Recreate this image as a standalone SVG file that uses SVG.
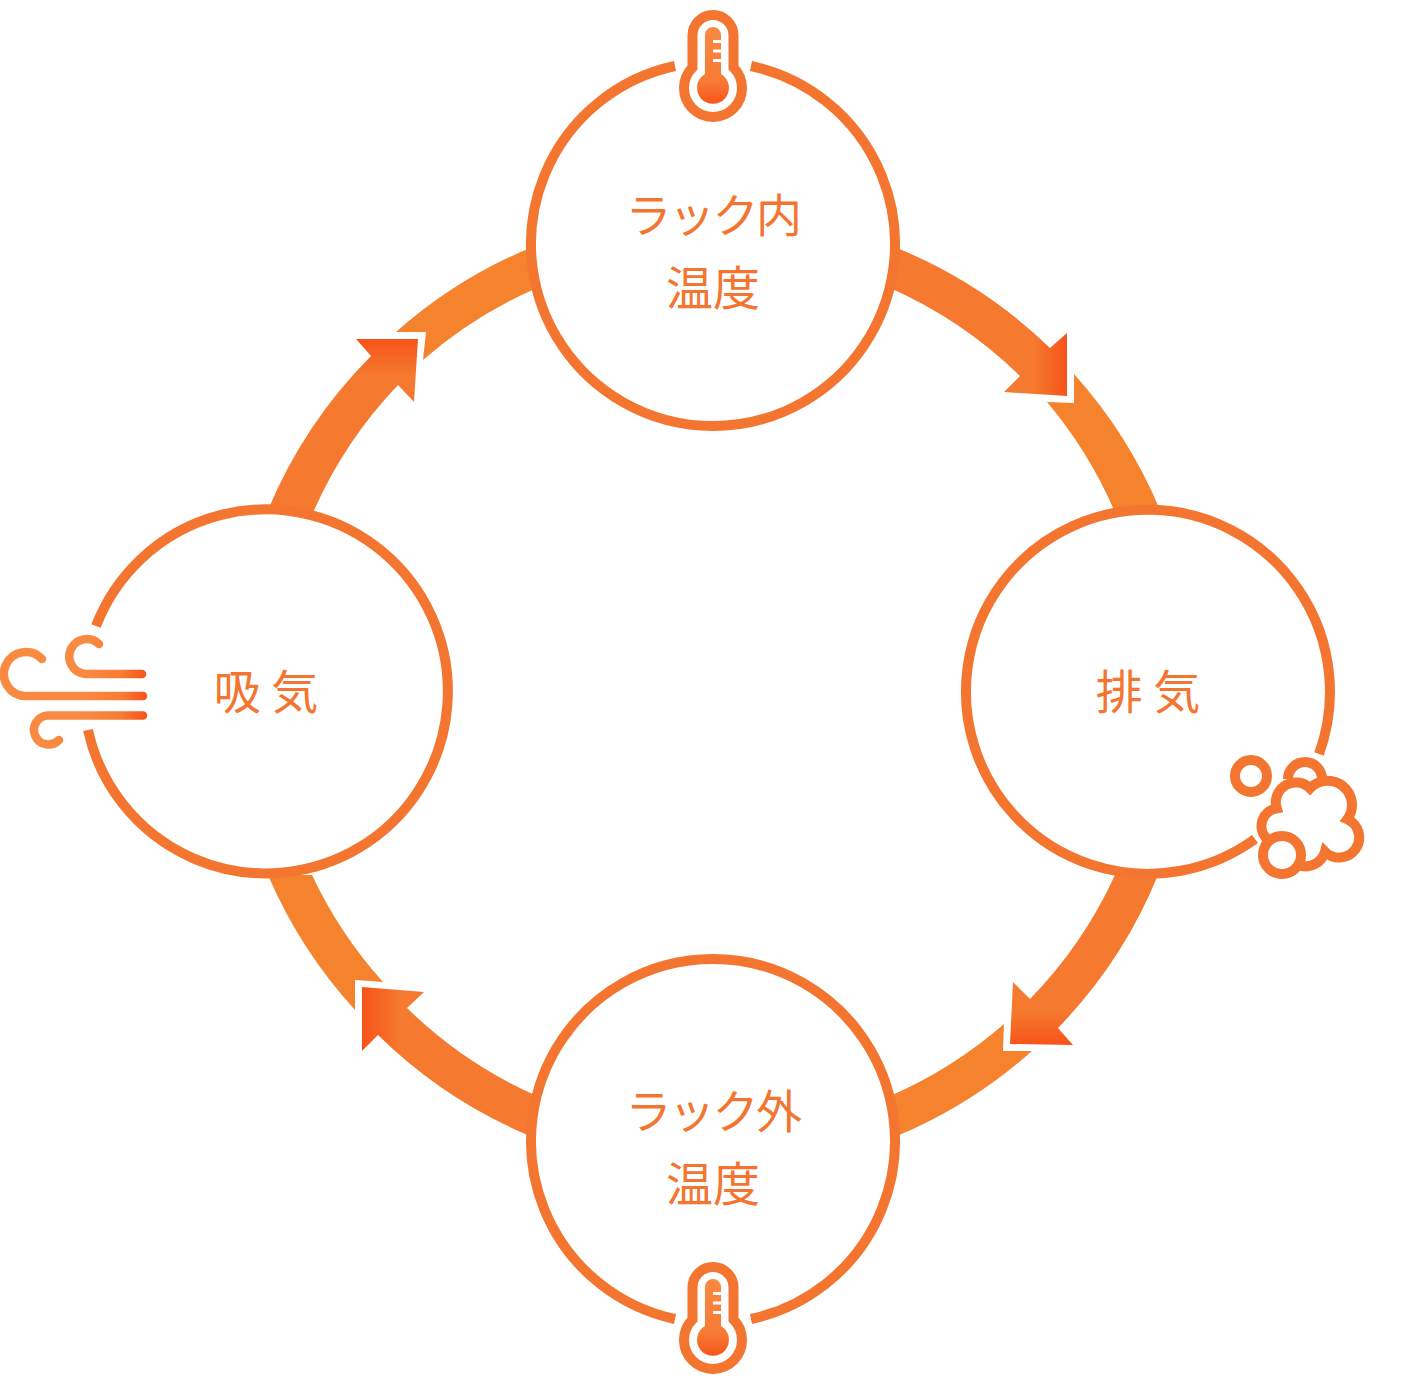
<svg xmlns="http://www.w3.org/2000/svg" width="1415" height="1385" viewBox="0 0 1415 1385">
<defs>
<linearGradient id="hR" gradientUnits="userSpaceOnUse" x1="1034" y1="0" x2="1068" y2="0"><stop offset="0" stop-color="#f5792f"/><stop offset="1" stop-color="#f75318"/></linearGradient>
<linearGradient id="hB" gradientUnits="userSpaceOnUse" x1="0" y1="1012" x2="0" y2="1045"><stop offset="0" stop-color="#f5792f"/><stop offset="1" stop-color="#f75318"/></linearGradient>
<linearGradient id="hL" gradientUnits="userSpaceOnUse" x1="362" y1="0" x2="400" y2="0"><stop offset="0" stop-color="#f75318"/><stop offset="1" stop-color="#f5792f"/></linearGradient>
<linearGradient id="hT" gradientUnits="userSpaceOnUse" x1="0" y1="339" x2="0" y2="375"><stop offset="0" stop-color="#f75318"/><stop offset="1" stop-color="#f5792f"/></linearGradient>
<linearGradient id="wind" gradientUnits="userSpaceOnUse" x1="85" y1="0" x2="147" y2="0"><stop offset="0" stop-color="#f98a42"/><stop offset="0.6" stop-color="#f87a35"/><stop offset="1" stop-color="#f75318"/></linearGradient>
<linearGradient id="tf" gradientUnits="userSpaceOnUse" x1="0" y1="27" x2="0" y2="105"><stop offset="0" stop-color="#f98a42"/><stop offset="0.7" stop-color="#f87a35"/><stop offset="1" stop-color="#f75318"/></linearGradient>
<g id="thermo">
<path d="M692.500 67.500V35.500A20.500 20.500 0 0 1 733.500 35.500V67.500A29 29 0 1 1 692.500 67.500Z" fill="#fff" stroke="#f3752f" stroke-width="10"/>
<path fill="url(#tf)" d="M705 74V35A8 8 0 0 1 721 35V74A16 16 0 1 1 705 74Z"/>
<rect fill="#fff" x="713" y="40" width="9" height="3"/>
<rect fill="#fff" x="713" y="49.500" width="9" height="3"/>
<rect fill="#fff" x="713" y="59" width="9" height="3"/>
</g>
</defs>
<style>
.ring{fill:none;stroke:#f3752f;stroke-width:10}
.seg{fill:#f5832e}
.lbl{font-family:"Noto Sans CJK JP","Noto Sans",sans-serif;font-size:47px;font-weight:400;fill:#f3752f;text-anchor:middle}
.kana{font-size:46px;letter-spacing:-2.500px}
.cl{fill:#fff;stroke:#f3752f;stroke-width:10;stroke-linejoin:miter}
.w{fill:none;stroke:url(#wind);stroke-width:8.5;stroke-linecap:round}
</style>
<g id="connectors">
<path id="c1a" fill="url(#hR)" d="M897 248A481 481 0 0 1 1050 348L1067 333L1067 396L1004 392L1020 376A440 440 0 0 0 890 288Z"/>
<path id="c1b" class="seg" d="M1074 374A481 481 0 0 1 1160 510L1114 510A440 440 0 0 0 1047 402L1074 403Z"/>
<path id="c2a" fill="url(#hB)" d="M1158 875A481 481 0 0 1 1058 1028L1073 1045L1010 1044L1013 982L1030 999A440 440 0 0 0 1115 875Z"/>
<path id="c2b" class="seg" d="M1004 1024L1003 1051L1032 1051A481 481 0 0 1 897 1136L890 1096A440 440 0 0 0 1004 1024Z"/>
<path id="c3a" fill="url(#hL)" d="M530 1136A481 481 0 0 1 378 1035L362 1051L362 987L424 992L407 1008A440 440 0 0 0 537 1096Z"/>
<path id="c3b" class="seg" d="M383 982L355 980L355 1010A481 481 0 0 1 268 875L312 875A440 440 0 0 0 383 982Z"/>
<path id="c4a" fill="url(#hT)" d="M268 510A481 481 0 0 1 371 356L356 339L418 339L414 402L398 385A440 440 0 0 0 312 515Z"/>
<path id="c4b" class="seg" d="M396 332L426 332L423 360A440 440 0 0 1 537 288L530 248A481 481 0 0 0 396 332Z"/>
</g>
<g id="node-top">
<circle cx="713" cy="244" r="178" fill="#fff"/>
<path class="ring" d="M675 66A182 182 0 1 0 751 66"/>
<text class="lbl kana" x="712.500" y="232">ラック内</text>
<text class="lbl" x="713" y="305">温度</text>
<use href="#thermo"/>
</g>
<g id="node-right">
<circle cx="1148" cy="692" r="178" fill="#fff"/>
<path class="ring" d="M1319 754A182 182 0 1 0 1255 839"/>
<text class="lbl" x="1148" y="709" xml:space="preserve">排 気</text>
<circle class="cl" cx="1251" cy="776" r="16"/>
<path class="cl" d="M1288 779A17 17 0 0 1 1322 779"/>
<path class="cl" d="M1276.700 808.300A20 20 0 0 1 1310 788.300A24.300 24.300 0 0 1 1347.300 819.300A20 20 0 1 1 1325 851.700A20 20 0 0 1 1302 866L1270 845L1266 838A18 18 0 0 1 1276.700 808.300Z"/>
<circle class="cl" cx="1282" cy="855" r="19"/>
</g>
<g id="node-bottom">
<circle cx="713" cy="1141" r="178" fill="#fff"/>
<path class="ring" d="M675 1319A182 182 0 1 1 751 1319"/>
<text class="lbl kana" x="712.500" y="1128">ラック外</text>
<text class="lbl" x="713" y="1201">温度</text>
<use href="#thermo" y="1252"/>
</g>
<g id="node-left">
<circle cx="266" cy="692" r="178" fill="#fff"/>
<path class="ring" d="M96 626A182 182 0 1 1 88 730"/>
<text class="lbl" x="266" y="709" xml:space="preserve">吸 気</text>
<path class="w" d="M142 674H85.500A17.500 17.500 0 1 1 99 644"/>
<path class="w" d="M143 696H26A22 22 0 1 1 42 659"/>
<path class="w" d="M143 715.500H48A14.500 14.500 0 1 0 59 740"/>
</g>
</svg>
